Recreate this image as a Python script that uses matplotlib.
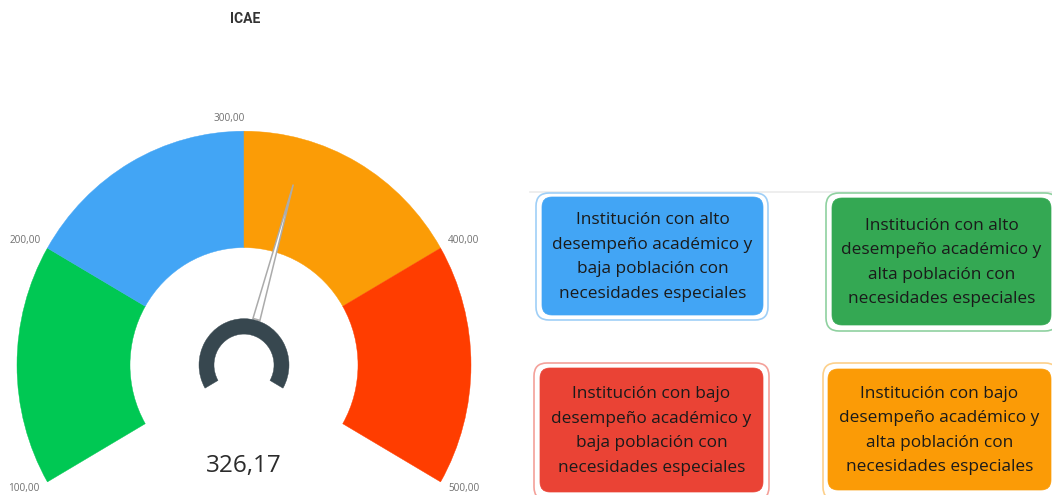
import numpy as np
import matplotlib
matplotlib.use("Agg")
import matplotlib.pyplot as plt
from matplotlib.patches import Wedge, Polygon, FancyBboxPatch

# ---------------- data ----------------
title = "ICAE"
band_edges = [100, 200, 300, 400, 500]
band_colors = ["#00C853", "#42A5F5", "#FB9C06", "#FF3D00"]
tick_labels = ["100,00", "200,00", "300,00", "400,00", "500,00"]
value = 326.17
value_label = "326,17"

box_texts = [
    "Institución con alto\ndesempeño académico y\nbaja población con\nnecesidades especiales",
    "Institución con alto\ndesempeño académico y\nalta población con\nnecesidades especiales",
    "Institución con bajo\ndesempeño académico y\nbaja población con\nnecesidades especiales",
    "Institución con bajo\ndesempeño académico y\nalta población con\nnecesidades especiales",
]
box_fills = ["#42A5F5", "#34A853", "#EA4335", "#FB9B06"]
box_borders = ["#9FCFF7", "#8FD1A0", "#F4A19A", "#FDD08A"]

# ---------------- figure ----------------
W, H = 1052, 495
fig = plt.figure(figsize=(W / 100, H / 100), dpi=100)
fig.patch.set_facecolor("white")

# gauge axes (units ~ pixels, centre of gauge at origin, slight vertical stretch)
gw = 488
cx, cy = 244, 365
sy = 1.03
gax = fig.add_axes([0, 0, gw / W, 1])
gax.set_xlim(-cx, gw - cx)
gax.set_ylim(-(H - cy) / sy, cy / sy)
gax.axis("off")

vmin, vmax = band_edges[0], band_edges[-1]
half_sweep = 120.0


def ang(v):
    return 90 + half_sweep - (v - vmin) / (vmax - vmin) * 2 * half_sweep


R_out, R_in = 227, 114
for i, col in enumerate(band_colors):
    a1 = ang(band_edges[i + 1])
    a2 = ang(band_edges[i])
    gax.add_patch(Wedge((0, 0), R_out, a1, a2, width=R_out - R_in,
                        facecolor=col, edgecolor=col, lw=0.3))

# needle
t = np.radians(ang(value))
u = np.array([np.cos(t), np.sin(t)])
p = np.array([-np.sin(t), np.cos(t)])
base_r, tip_r, hw = 46, 182, 3.6
needle = Polygon([base_r * u + hw * p, tip_r * u, base_r * u - hw * p],
                 closed=True, facecolor="white", edgecolor="#ABABAB", lw=1.1, zorder=5)
gax.add_patch(needle)

# hub ring
gax.add_patch(Wedge((0, 0), 45, ang(vmax), ang(vmin), width=15,
                    facecolor="#37474F", edgecolor="#37474F", lw=0.3, zorder=6))

# tick labels
offsets = [(-8, -7, "right"), (-7, 8, "right"), (1, 13, "right"), (7, 8, "left"), (8, -7, "left")]
for v, lab, (dx, dy, ha) in zip(band_edges, tick_labels, offsets):
    tt = np.radians(ang(v))
    gax.annotate(lab, xy=(R_out * np.cos(tt), R_out * np.sin(tt)),
                 xytext=(dx, dy), textcoords="offset pixels",
                 ha=ha, va="center", fontsize=7.2, color="#707070",
                 family="Open Sans", annotation_clip=False)

gax.text(0, -(466 - cy) / sy, value_label, ha="center", va="center",
         fontsize=17.5, color="#2B2B2B", family="Open Sans")

# overlay axes in pixel coordinates
ax = fig.add_axes([0, 0, 1, 1])
ax.set_xlim(0, W)
ax.set_ylim(H, 0)
ax.axis("off")
ax.patch.set_alpha(0)

ax.text(245, 19, title, ha="center", va="center", fontsize=10,
        fontweight="bold", color="#333333", family="Roboto")

# separator line
ax.plot([530, W], [192, 192], color="#EBEBEB", lw=1.2, zorder=1)

outer_rects = [(536, 193, 768, 320), (826, 193, 1058, 331),
               (534, 363, 769, 500), (823, 363, 1058, 500)]
inner_rects = [(542, 197, 763, 315), (832, 198, 1051, 325),
               (540, 368, 763, 492), (828, 369, 1051, 490)]

for i in range(4):
    x0, y0, x1, y1 = outer_rects[i]
    ax.add_patch(FancyBboxPatch((x0, y0), x1 - x0, y1 - y0,
                                boxstyle="round,pad=0,rounding_size=13",
                                facecolor="white", edgecolor=box_borders[i], lw=1.2, zorder=2))
    x0, y0, x1, y1 = inner_rects[i]
    ax.add_patch(FancyBboxPatch((x0, y0), x1 - x0, y1 - y0,
                                boxstyle="round,pad=0,rounding_size=10",
                                facecolor=box_fills[i], edgecolor=box_fills[i], lw=0.5, zorder=3))
    ax.text((x0 + x1) / 2, (y0 + y1) / 2 + 1, box_texts[i], ha="center", va="center",
            fontsize=12.4, color="#1A1A1A", family="Open Sans", linespacing=1.72, zorder=4)

fig.savefig("out.png", dpi=100, facecolor="white")
